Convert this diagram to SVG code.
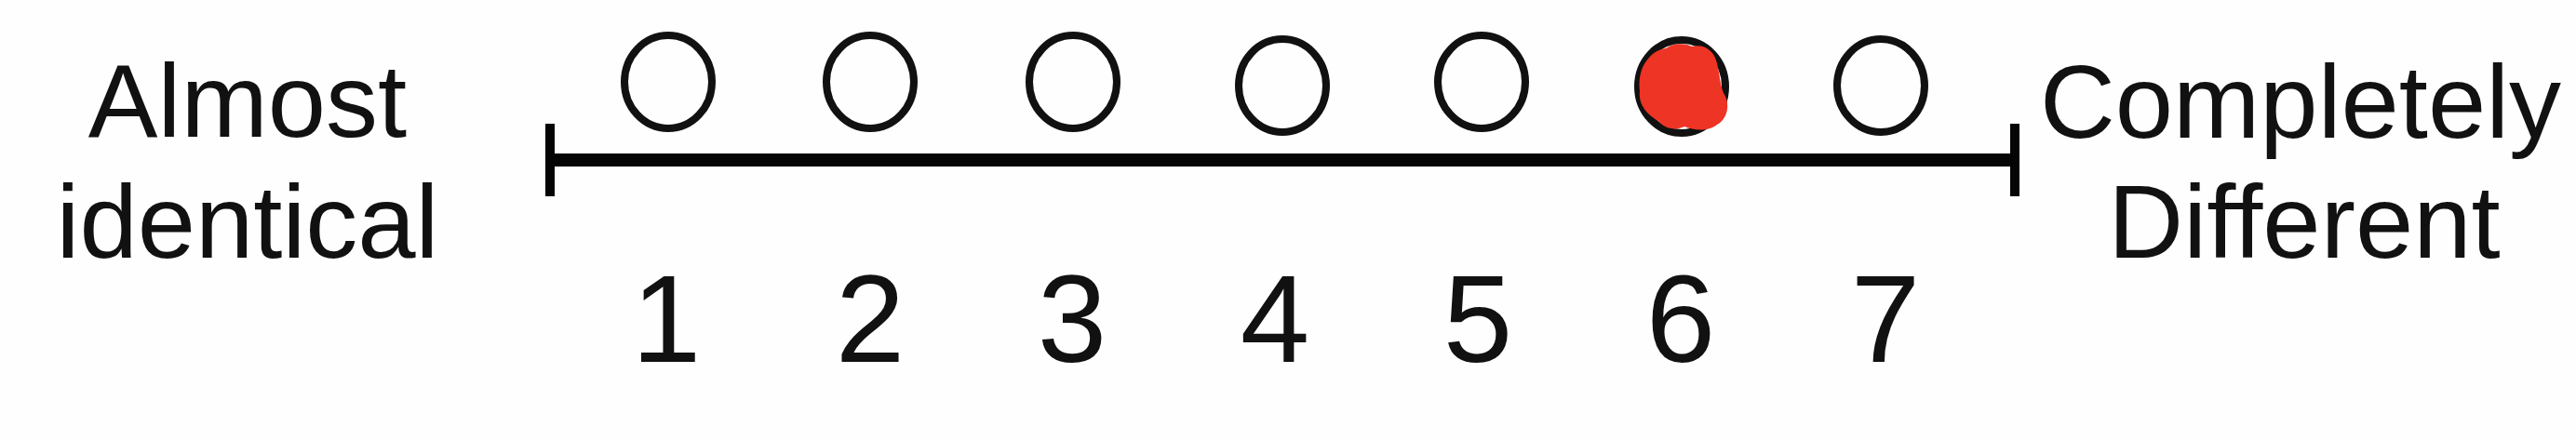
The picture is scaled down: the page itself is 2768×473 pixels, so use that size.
<svg xmlns="http://www.w3.org/2000/svg" width="2768" height="473" viewBox="0 0 2768 473">
<style>
.lbl{font-family:"Liberation Sans",Arial,sans-serif;font-size:112px;fill:#111;text-anchor:middle}
.num{font-family:"Liberation Sans",Arial,sans-serif;font-size:134px;fill:#111;text-anchor:middle}
.opt{fill:none;stroke:#111;stroke-width:8}
.axis{stroke:#050505;stroke-width:14;fill:none}
.tick{stroke:#050505;stroke-width:10;fill:none}
</style>
<rect width="2768" height="473" fill="#fefefe"/>
<g id="left-label"><text class="lbl" x="266" y="147">Almost</text><text class="lbl" x="266" y="277">identical</text></g>
<g id="right-label"><text class="lbl" x="2472" y="148">Completely</text><text class="lbl" x="2476" y="277">Different</text></g>
<g id="connectors">
<line class="axis" x1="591" y1="172" x2="2165" y2="172"/>
<line class="tick" x1="591" y1="133" x2="591" y2="211"/>
<line class="tick" x1="2165" y1="133" x2="2165" y2="211"/>
</g>
<g id="opt1"><ellipse class="opt" cx="718" cy="88" rx="47" ry="50"/><text class="num" x="716" y="389">1</text></g>
<g id="opt2"><ellipse class="opt" cx="935" cy="88" rx="47" ry="50"/><text class="num" x="935" y="389">2</text></g>
<g id="opt3"><ellipse class="opt" cx="1153" cy="88" rx="47" ry="50"/><text class="num" x="1152" y="389">3</text></g>
<g id="opt4"><ellipse class="opt" cx="1378" cy="92" rx="47" ry="50"/><text class="num" x="1370" y="389">4</text></g>
<g id="opt5"><ellipse class="opt" cx="1592" cy="88" rx="47" ry="50"/><text class="num" x="1588" y="389">5</text></g>
<g id="opt6"><ellipse class="opt" cx="1807" cy="93" rx="47" ry="50"/>
<path d="M1790 52 C1800 45 1812 47 1818 50 C1832 47 1842 55 1845 68 C1848 80 1848 90 1852 100 C1860 112 1856 128 1845 134 C1835 142 1820 140 1810 136 C1800 141 1788 138 1782 130 C1770 124 1760 112 1762 98 C1760 84 1764 70 1772 62 C1778 55 1784 53 1790 52 Z" fill="#ee3424"/>
<text class="num" x="1806" y="389">6</text></g>
<g id="opt7"><ellipse class="opt" cx="2021" cy="92" rx="47" ry="50"/><text class="num" x="2026" y="389">7</text></g>
</svg>
